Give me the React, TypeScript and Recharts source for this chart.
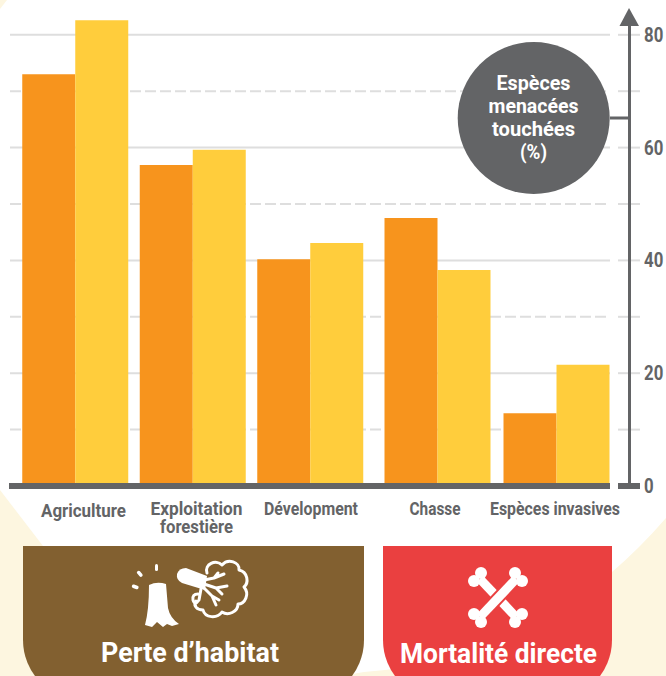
import React from 'react';
import { BarChart, Bar, XAxis, YAxis, CartesianGrid } from 'recharts';

const habitatCategories = ['Agriculture', 'Exploitation forestière', 'Dévelopment'];
const habitatFirst = [73, 56.9, 40.2];
const habitatSecond = [82.6, 59.6, 43.1];
const directCategories = ['Chasse', 'Espèces invasives'];
const directFirst = [47.5, 12.9];
const directSecond = [38.3, 21.5];
const majorTicks = [20, 40, 60, 80];
const minorTicks = [10, 30, 50, 70];
const axisTicks = [0, 10, 20, 30, 40, 50, 60, 70, 80];
const panelTitles = ['Perte d’habitat', 'Mortalité directe'];
const badgeLines = ['Espèces', 'menacées', 'touchées', '(%)'];

const habitatData = habitatCategories.map((name, i) => ({ name, a: habitatFirst[i], b: habitatSecond[i] }));
const directData = directCategories.map((name, i) => ({ name, a: directFirst[i], b: directSecond[i] }));

const W = 666, H = 676;
const FONT = 'Roboto, "Liberation Sans", sans-serif';
const GREY = '#636466';
const GRID = '#dedede';
const domain: [number, number] = [0, 85];
const top = 6.6, bottomM = H - 486;

const nudge: Record<string, number> = {
  Agriculture: 8.5, 'Exploitation forestière': 4, 'Dévelopment': 1, Chasse: -2, 'Espèces invasives': -1,
};
const wrapped: Record<string, string[]> = { 'Exploitation forestière': ['Exploitation', 'forestière'] };
const textWidths: Record<string, number> = {
  Agriculture: 85, Exploitation: 92, 'forestière': 73, 'Dévelopment': 94, Chasse: 51, 'Espèces invasives': 130,
  'Perte d’habitat': 178, 'Mortalité directe': 197,
  'Espèces': 74, 'menacées': 90, 'touchées': 83, '(%)': 27,
};

function Fit({ x, y, size, fill, children }: any) {
  return (
    <text x={x} y={y} textAnchor="middle" fontFamily={FONT} fontWeight={700} fontSize={size} fill={fill}
      textLength={textWidths[children]} lengthAdjust="spacingAndGlyphs">{children}</text>
  );
}

function CatTick({ x, payload }: any) {
  const v = payload.value as string;
  const lines = wrapped[v] || [v];
  const base = v === 'Agriculture' ? 517 : 515;
  return (
    <g>
      {lines.map((l, i) => <Fit key={l} x={x + (nudge[v] || 0)} y={base + i * 18} size={18} fill={GREY}>{l}</Fit>)}
    </g>
  );
}

function ValTick({ x, y, payload }: any) {
  const v = payload.value as number;
  const major = v % 20 === 0;
  return (
    <g>
      <line x1={x + 8} x2={x + 30} y1={y} y2={y} stroke={v === 0 ? GREY : GRID} strokeWidth={v === 0 ? 6 : 2} />
      {major && (
        <text transform={`translate(${x + 34} ${y + 7}) scale(0.8 1)`} fontFamily={FONT} fontWeight={700} fontSize={21} fill={GREY}>{v}</text>
      )}
    </g>
  );
}

const layer: React.CSSProperties = { position: 'absolute', left: 0, top: 0 };

export default function App() {
  return (
    <div style={{ position: 'absolute', left: 0, top: 0, width: W, height: H, overflow: 'hidden', background: '#fff' }}>
      <svg width={W} height={H} style={layer}>
        <path d="M0,0 L7,0 L0,9 Z" fill="#fdf6e0" />
        <path d="M0,490 L43,546 L60,600 L200,676 L0,676 Z" fill="#fdf6e0" />
        <path d="M340,676 L364,672 Q500,662 612,572 Q640,548 666,518 L666,676 Z" fill="#fdf6e0" />
      </svg>
      <div style={layer}>
        <BarChart width={W} height={H} data={habitatData} margin={{ left: 10, right: 0, top, bottom: bottomM }}>
          <CartesianGrid vertical={false} horizontalValues={majorTicks} stroke={GRID} strokeWidth={2} />
          <CartesianGrid vertical={false} horizontalValues={minorTicks} stroke={GRID} strokeWidth={2} strokeDasharray="11 4" />
          <XAxis dataKey="name" hide />
          <YAxis orientation="right" width={56} domain={domain} ticks={axisTicks} interval={0} axisLine={false} tickLine={false} tickSize={0} tickMargin={0} tick={<ValTick />} />
          <Bar dataKey="a" fill="none" isAnimationActive={false} />
        </BarChart>
      </div>
      <div style={layer}>
        <BarChart width={W} height={H} data={habitatData} barSize={53} barGap={0} margin={{ left: 16.25, right: 297.25, top, bottom: bottomM - 30 }}>
          <XAxis dataKey="name" height={30} axisLine={false} tickLine={false} interval={0} tick={<CatTick />} />
          <YAxis hide domain={domain} />
          <Bar dataKey="a" fill="#f7941d" isAnimationActive={false} />
          <Bar dataKey="b" fill="#ffcd3c" isAnimationActive={false} />
        </BarChart>
      </div>
      <div style={layer}>
        <BarChart width={W} height={H} data={directData} barSize={53} barGap={0} margin={{ left: 377.5, right: 50.5, top, bottom: bottomM - 30 }}>
          <XAxis dataKey="name" height={30} axisLine={false} tickLine={false} interval={0} tick={<CatTick />} />
          <YAxis hide domain={domain} />
          <Bar dataKey="a" fill="#f7941d" isAnimationActive={false} />
          <Bar dataKey="b" fill="#ffcd3c" isAnimationActive={false} />
        </BarChart>
      </div>
      <svg width={W} height={H} style={layer}>
        <rect x={9} y={483} width={601} height={6} fill={GREY} />
        <rect x={628} y={24} width={3} height={462} fill={GREY} />
        <path d="M629,8 L639,26 L619.5,26 Z" fill={GREY} />
        <rect x={610} y={116.5} width={19} height={3} fill={GREY} />
        <circle cx={533.7} cy={118} r={76} fill={GREY} />
        {badgeLines.map((l, i) => <Fit key={l} x={533.5} y={90 + i * 23} size={20} fill="#fff">{l}</Fit>)}

        <path d="M23,546 H364 V640 A60,60 0 0 1 304,700 H83 A60,60 0 0 1 23,640 Z" fill="#826030" />
        <path d="M383,546 H612 V640 A60,60 0 0 1 552,700 H443 A60,60 0 0 1 383,640 Z" fill="#ea4040" />
        <Fit x={190} y={662} size={28} fill="#fff">{panelTitles[0]}</Fit>
        <Fit x={498.5} y={663} size={28} fill="#fff">{panelTitles[1]}</Fit>

        <g fill="#fff" stroke="none">
          <path d="M149,585 Q157,581 166,584 L168,608 Q170,618 179,624 L172,626 L167,624 L163,627 L157,622 L152,627 L145,625 Q149,610 149,585 Z" />
          <rect x={155} y={564} width={3} height={7} rx={1.5} />
          <rect x={137} y={572} width={7} height={3.5} rx={1.7} transform="rotate(50 140 573)" />
          <rect x={132} y={585} width={7} height={3.5} rx={1.7} transform="rotate(20 135 586)" />
          <path d="M177,574 Q179,568 186,568 L207,576 L205,590 L182,583 Q176,580 177,574 Z" />
        </g>
        <g fill="none" stroke="#fff" strokeWidth={3} strokeLinecap="round" strokeLinejoin="round">
          <path d="M204,580 L214,578 L224,574 M214,578 L218,573" />
          <path d="M204,584 L216,588 L227,586 M216,588 L222,594" />
          <path d="M204,588 L212,596 L216,605 M212,596 L219,600" />
          <path d="M201,589 L199,600 Q195,606 193,600 Q192,594 198,594" />
          <path d="M207,573 C204,564 216,559 222,565 C228,558 240,562 239,570 C248,572 249,583 244,587 C250,594 245,604 238,604 C238,612 228,616 222,612 C217,619 205,618 203,610 C197,610 193,606 196,601" />
        </g>

        <g stroke="#fff" strokeWidth={9}>
          <line x1={480} y1={579} x2={516} y2={617} />
          <line x1={516} y1={579} x2={480} y2={617} stroke="#ea4040" strokeWidth={13} />
          <line x1={516} y1={579} x2={480} y2={617} />
        </g>
        <g fill="#fff">
          <circle cx={481} cy={573} r={6} /><circle cx={474} cy={581} r={6} />
          <circle cx={515} cy={573} r={6} /><circle cx={522} cy={581} r={6} />
          <circle cx={474} cy={614} r={6} /><circle cx={481} cy={622} r={6} />
          <circle cx={522} cy={614} r={6} /><circle cx={515} cy={622} r={6} />
        </g>
      </svg>
    </div>
  );
}
